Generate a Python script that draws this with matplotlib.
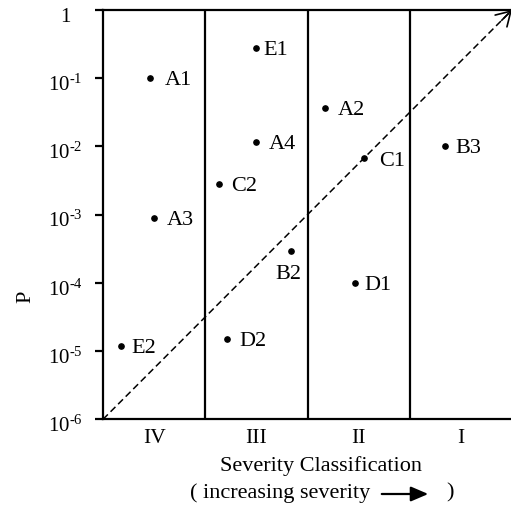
import matplotlib
matplotlib.use("Agg")
import matplotlib.pyplot as plt
from matplotlib.transforms import ScaledTranslation

plt.rcParams['font.family'] = ['Liberation Serif', 'DejaVu Serif']
plt.rcParams['mathtext.fontset'] = 'custom'
plt.rcParams['mathtext.rm'] = 'Liberation Serif'
plt.rcParams['mathtext.it'] = 'Liberation Serif:italic'

# data
labels = ["A1", "A3", "C2", "E1", "A4", "A2", "C1", "B3", "B2", "D1", "D2", "E2"]
severity_x = [0.46, 0.50, 1.13, 1.50, 1.50, 2.17, 2.55, 3.34, 1.84, 2.46, 1.21, 0.18]
prob = [1.0e-1, 8.9e-4, 2.8e-3, 2.8e-1, 1.18e-2, 3.7e-2, 6.8e-3, 1.0e-2, 2.9e-4, 1.0e-4, 1.5e-5, 1.2e-5]
class_labels = ["IV", "III", "II", "I"]
ytick_vals = [1e-6, 1e-5, 1e-4, 1e-3, 1e-2, 1e-1, 1]
ytick_labels = [r"10$^{\text{-6}}$", r"10$^{\text{-5}}$", r"10$^{\text{-4}}$", r"10$^{\text{-3}}$",
                r"10$^{\text{-2}}$", r"10$^{\text{-1}}$", "1"]
diag_x = [0, 4]
diag_y = [1e-6, 1]

# label offsets in points (style)
label_offsets = {"E1": (5, 0), "B2": (-2, -10), "C1": (11, -1), "A1": (10.5, 0),
                 "B3": (7.5, 0), "D1": (7, 0), "E2": (7, 0)}
default_offset = (9, 0)

FS = 16
fig = plt.figure(figsize=(5.11, 5.05), dpi=100)
ax = fig.add_axes([103/511, 1 - 419.3/505, 409/511, 409.3/505])
ax.set_yscale('log')
ax.set_xlim(0, 4)
ax.set_ylim(1e-6, 1)

for s in ['left', 'bottom', 'top']:
    ax.spines[s].set_linewidth(1.6)
ax.spines['right'].set_visible(False)

for xv in [1, 2, 3]:
    ax.axvline(xv, color='black', lw=1.6)

# diagonal dashed line with arrow
ax.plot(diag_x, diag_y, color='black', lw=1.1, ls=(0, (4.5, 2.5)), clip_on=False)
ax.annotate('', xy=(diag_x[1], diag_y[1]), xytext=(3.9, 10 ** (-0.15)),
            arrowprops=dict(arrowstyle='->,head_length=0.5,head_width=0.3', lw=1.2,
                            color='black', mutation_scale=20, shrinkA=0, shrinkB=0),
            annotation_clip=False)

ax.plot(severity_x, prob, 'o', color='black', ms=3.8, ls='none')
for lab, xv, yv in zip(labels, severity_x, prob):
    off = label_offsets.get(lab, default_offset)
    if lab == "B2":
        ax.annotate(lab, (xv, yv), xytext=off, textcoords='offset points',
                    ha='center', va='top', fontsize=FS)
    else:
        ax.annotate(lab, (xv, yv), xytext=off, textcoords='offset points',
                    ha='left', va='center_baseline', fontsize=FS)

ax.set_yticks(ytick_vals)
ax.set_yticklabels(ytick_labels)
ax.yaxis.set_minor_locator(matplotlib.ticker.NullLocator())
ax.tick_params(axis='y', direction='out', length=6, width=1.6, pad=21, labelsize=15)
shift = ScaledTranslation(0, -4.5/100, fig.dpi_scale_trans)
for t in ax.get_yticklabels():
    t.set_ha('center')
    t.set_transform(t.get_transform() + shift)

ax.set_xticks([0.5, 1.5, 2.5, 3.5])
ax.set_xticklabels(class_labels)
ax.tick_params(axis='x', length=0, pad=7, labelsize=15.5)

ax.set_ylabel('P', fontsize=FS)
ax.yaxis.set_label_coords(-0.166, 0.3)

fig.text(321/511, 1 - 466/505, 'Severity Classification', ha='center', va='center', fontsize=FS)
fig.text(370/511, 1 - 493/505, '( increasing severity', ha='right', va='center', fontsize=FS)
fig.text(450/511, 1 - 493/505, ')', ha='center', va='center', fontsize=FS)
fig.patches.append(matplotlib.patches.FancyArrowPatch(
    (379/511, 1 - 494/505), (431/511, 1 - 494/505), transform=fig.transFigure,
    arrowstyle='-|>,head_length=0.7,head_width=0.3', mutation_scale=15, lw=1.6, color='black'))

fig.savefig('out.png', dpi=100)
